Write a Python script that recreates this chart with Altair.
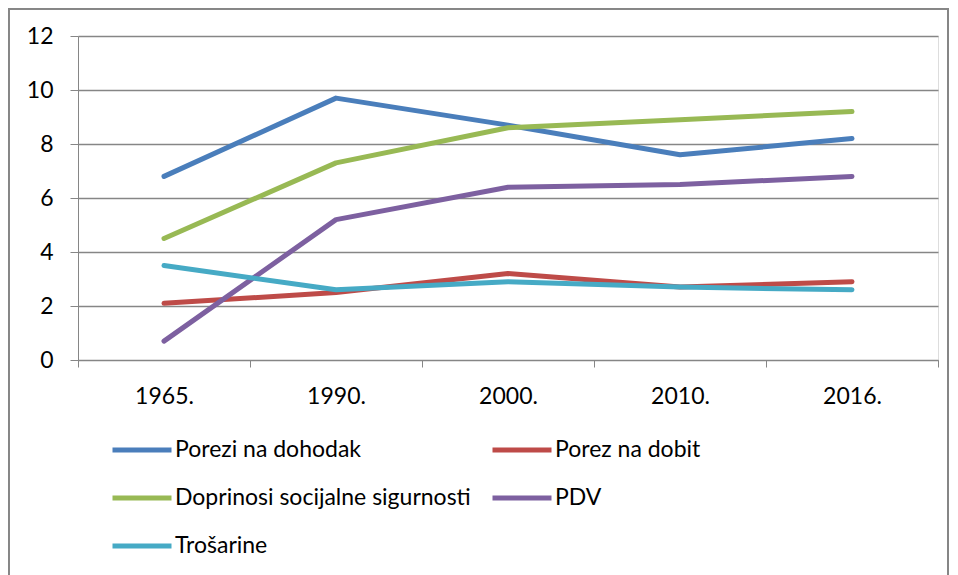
import altair as alt
import pandas as pd

years = ["1965.", "1990.", "2000.", "2010.", "2016."]
series_names = ["Porezi na dohodak", "Porez na dobit", "Doprinosi socijalne sigurnosti", "PDV", "Trošarine"]
porezi_na_dohodak = [6.8, 9.7, 8.7, 7.6, 8.2]
porez_na_dobit = [2.1, 2.5, 3.2, 2.7, 2.9]
doprinosi = [4.5, 7.3, 8.6, 8.9, 9.2]
pdv = [0.7, 5.2, 6.4, 6.5, 6.8]
trosarine = [3.5, 2.6, 2.9, 2.7, 2.6]
colors = ["#4A7EBB", "#BE4B48", "#98B954", "#7D60A0", "#46AAC5"]
y_ticks = [0, 2, 4, 6, 8, 10, 12]

all_values = [porezi_na_dohodak, porez_na_dobit, doprinosi, pdv, trosarine]
rows = []
for name, vals in zip(series_names, all_values):
    for yr, v in zip(years, vals):
        rows.append({"Godina": yr, "Serija": name, "Vrijednost": v})
df = pd.DataFrame(rows)

FONT = "Lato"
GRID = "#868686"

lines = alt.Chart(df).mark_line(strokeWidth=5, strokeCap="round", strokeJoin="round").encode(
    x=alt.X("Godina:N", sort=years, title=None,
            scale=alt.Scale(paddingInner=0, paddingOuter=0, align=0.5),
            axis=alt.Axis(labelAngle=0, domainColor=GRID, tickColor=GRID, tickSize=7,
                          tickBand="extent", labelPadding=18, labelFontSize=23,
                          labelColor="#000000", labelFont=FONT, grid=False)),
    y=alt.Y("Vrijednost:Q", title=None,
            scale=alt.Scale(domain=[0, 12], nice=False),
            axis=alt.Axis(values=y_ticks, domainColor=GRID, tickColor=GRID, tickSize=8,
                          gridColor=GRID, gridWidth=1.3, labelPadding=17, labelFontSize=23,
                          labelColor="#000000", labelFont=FONT)),
    color=alt.Color("Serija:N", sort=series_names,
                    scale=alt.Scale(domain=series_names, range=colors),
                    legend=alt.Legend(title=None, orient="none", legendX=32, legendY=382,
                                      direction="horizontal",
                                      columns=2, symbolType="stroke", symbolSize=3481,
                                      symbolStrokeWidth=5, labelFontSize=23, labelFont=FONT,
                                      labelColor="#000000", labelOffset=1, rowPadding=4,
                                      columnPadding=11, labelLimit=400)),
    order=alt.value(0),
)

frame = alt.Chart(df).mark_rect(fill=None, stroke=GRID, strokeWidth=1.5).encode(
    x=alt.value(-69.5), x2=alt.value(870), y=alt.value(-27.5), y2=alt.value(600)
)

chart = alt.layer(lines, frame).properties(
    width=860, height=324,
    autosize=alt.AutoSizeParams(type="none"),
    padding={"left": 70, "top": 28, "right": 12, "bottom": 215},
).configure_view(stroke=None).configure(font=FONT)

chart.save("out.html", embed_options={"renderer": "svg", "actions": False})
